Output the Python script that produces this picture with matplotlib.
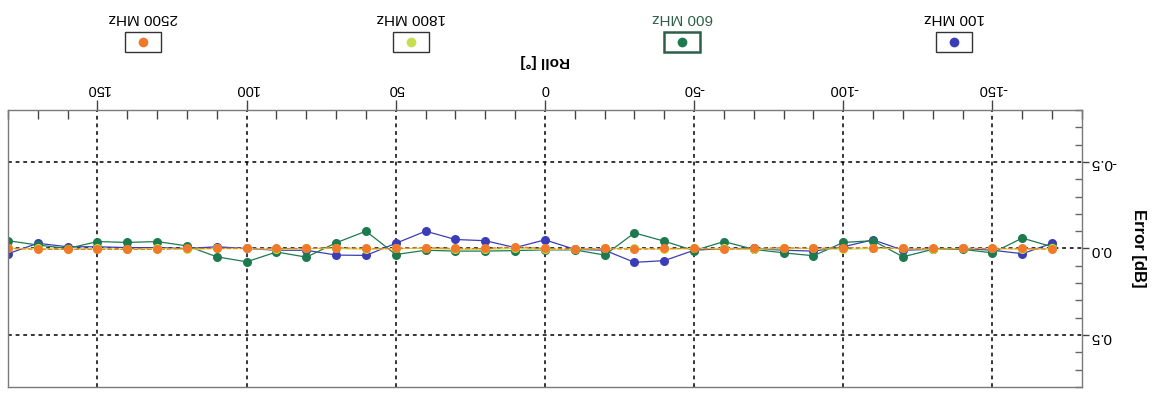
import matplotlib
matplotlib.use("Agg")
import matplotlib.pyplot as plt
from matplotlib.ticker import MultipleLocator, FixedLocator, FormatStrFormatter
from matplotlib.patches import Rectangle
from matplotlib.lines import Line2D

plt.rcParams['font.family'] = ['Liberation Sans', 'DejaVu Sans']
plt.rcParams['axes.unicode_minus'] = False

# roll angle [deg], the chart is shown turned upside down
roll = [180, 170, 160, 150, 140, 130, 120, 110, 100, 90, 80, 70, 60, 50, 40, 30, 20, 10,
        0, -10, -20, -30, -40, -50, -60, -70, -80, -90, -100, -110, -120, -130, -140, -150,
        -160, -170]

err_100 = [0.03, -0.03, -0.01, -0.01, -0.005, -0.005, 0.0, -0.01, 0.0, 0.01, 0.01, 0.038,
           0.04, -0.03, -0.1, -0.052, -0.045, -0.005, -0.05, 0.005, 0.01, 0.08, 0.07, 0.01,
           0.0, 0.0, 0.01, 0.015, -0.01, -0.05, 0.01, 0.005, 0.0, 0.01, 0.03, -0.03]
err_600 = [-0.045, -0.02, 0.0, -0.04, -0.035, -0.04, -0.015, 0.048, 0.077, 0.02, 0.05, -0.033,
           -0.1, 0.035, 0.01, 0.015, 0.015, 0.012, 0.008, 0.008, 0.038, -0.09, -0.042, 0.012,
           -0.04, 0.005, 0.025, 0.042, -0.035, -0.045, 0.048, 0.005, 0.005, 0.025, -0.06, -0.01]
err_1800 = [0.0, 0.0, 0.005, 0.0, 0.005, 0.0, 0.005, 0.0, 0.0, 0.005, 0.0, 0.0,
            0.005, 0.0, 0.0, 0.005, 0.005, 0.0, 0.005, 0.005, 0.0, 0.0, 0.005, 0.0,
            0.0, 0.005, 0.0, 0.0, 0.005, 0.0, 0.0, 0.005, 0.0, 0.0, 0.005, 0.0]
err_2500 = [0.0, 0.005, 0.005, 0.005, 0.005, 0.005, 0.0, 0.0, 0.0, 0.0, 0.0, -0.005,
            0.0, 0.0, -0.005, 0.0, 0.0, -0.01, 0.0, 0.005, 0.0, 0.005, 0.0, 0.0,
            0.005, 0.0, -0.005, 0.0, -0.005, -0.005, 0.0, 0.0, 0.0, 0.0, 0.0, 0.005]

labels = ["100 MHz", "600 MHz", "1800 MHz", "2500 MHz"]
colors = ["#3b3db8", "#1d7a4e", "#c6df4c", "#f07a2a"]
styles = ["-", "-", "-", "--"]
text_colors = ["black", "#2f5e49", "black", "black"]

fig = plt.figure(figsize=(11.74, 3.94), dpi=100)
ax = fig.add_axes([0.0068, 0.0178, 0.9148, 0.703])

for vals, c, ls in zip([err_100, err_600, err_1800, err_2500], colors, styles):
    ax.plot(roll, vals, color=c, linestyle=ls, linewidth=0.9,
            marker="o", markersize=6.5, markeredgewidth=0)

ax.set_xlim(180, -180)
ax.set_ylim(0.8, -0.8)

ax.xaxis.set_major_locator(FixedLocator([-150, -100, -50, 0, 50, 100, 150]))
ax.xaxis.set_minor_locator(MultipleLocator(10))
ax.yaxis.set_major_locator(FixedLocator([-0.5, 0.0, 0.5]))
ax.yaxis.set_minor_locator(MultipleLocator(0.1))
ax.yaxis.set_major_formatter(FormatStrFormatter("%.1f"))

ax.xaxis.tick_top()
ax.yaxis.tick_right()
ax.xaxis.set_label_position("top")
ax.yaxis.set_label_position("right")

ax.tick_params(axis="x", which="major", direction="out", length=7, width=1,
               color="#444444", labelsize=10.5, pad=3, labelrotation=180)
ax.tick_params(axis="x", which="minor", direction="in", length=6.5, width=1, color="#444444")
ax.tick_params(axis="y", which="major", direction="out", length=5, width=1,
               color="#444444", labelsize=11, pad=1, labelrotation=180)
ax.tick_params(axis="y", which="minor", direction="in", length=5, width=1, color="#666666")

ax.grid(True, which="major", color="black", linestyle=(0, (2.5, 2.5)), linewidth=1.1)
for s in ax.spines.values():
    s.set_color("#7a7a7a")
    s.set_linewidth(1)

ax.set_xlabel("Roll [°]", rotation=180, fontsize=11, fontweight="bold", labelpad=12)
ax.set_ylabel("Error [dB]", rotation=270, fontsize=12, fontweight="bold", labelpad=16,
              va="center")

# legend drawn by hand (upside down as well)
leg_x = [954, 682, 411, 143]
for x, lab, c, tc in zip(leg_x, labels, colors, text_colors):
    fx = x / 1174
    fig.text(fx, 1 - 18 / 394, lab, rotation=180, ha="center", va="center",
             fontsize=11, color=tc)
    ec = "#2f5e49" if lab == "600 MHz" else "#333333"
    lw = 1.8 if lab == "600 MHz" else 1.0
    fig.add_artist(Rectangle((fx - 18 / 1174, 1 - 52 / 394), 36 / 1174, 20 / 394,
                             transform=fig.transFigure, fill=False, edgecolor=ec,
                             linewidth=lw))
    fig.add_artist(Line2D([fx], [1 - 42 / 394], marker="o", markersize=7,
                          color=c, markeredgewidth=0, transform=fig.transFigure))

fig.savefig("out.png", dpi=100)
